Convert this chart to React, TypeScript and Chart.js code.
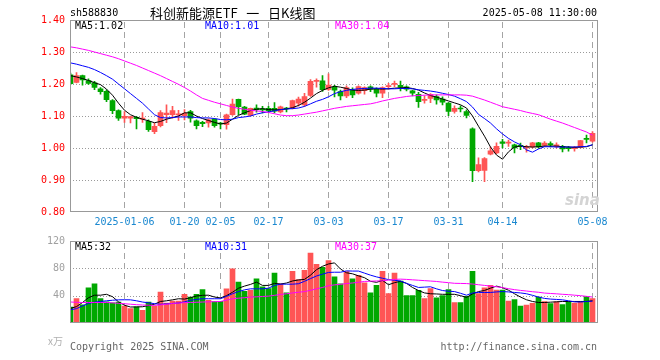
import React, { useEffect, useRef } from 'react';
import { Chart, registerables } from 'chart.js';

Chart.register(...registerables);

// ---------- DATA ----------
const dates = [
  '2024-12-23','2024-12-24','2024-12-25','2024-12-26','2024-12-27','2024-12-30','2024-12-31',
  '2025-01-02','2025-01-03','2025-01-06','2025-01-07','2025-01-08','2025-01-09','2025-01-10',
  '2025-01-13','2025-01-14','2025-01-15','2025-01-16','2025-01-17','2025-01-20','2025-01-21',
  '2025-01-22','2025-01-23','2025-01-24','2025-01-27','2025-02-05','2025-02-06','2025-02-07',
  '2025-02-10','2025-02-11','2025-02-12','2025-02-13','2025-02-14','2025-02-17','2025-02-18',
  '2025-02-19','2025-02-20','2025-02-21','2025-02-24','2025-02-25','2025-02-26','2025-02-27',
  '2025-02-28','2025-03-03','2025-03-04','2025-03-05','2025-03-06','2025-03-07','2025-03-10',
  '2025-03-11','2025-03-12','2025-03-13','2025-03-14','2025-03-17','2025-03-18','2025-03-19',
  '2025-03-20','2025-03-21','2025-03-24','2025-03-25','2025-03-26','2025-03-27','2025-03-28',
  '2025-03-31','2025-04-01','2025-04-02','2025-04-03','2025-04-07','2025-04-08','2025-04-09',
  '2025-04-10','2025-04-11','2025-04-14','2025-04-15','2025-04-16','2025-04-17','2025-04-18',
  '2025-04-21','2025-04-22','2025-04-23','2025-04-24','2025-04-25','2025-04-28','2025-04-29',
  '2025-04-30','2025-05-06','2025-05-07','2025-05-08',
];

const open = [
  1.229,1.205,1.226,1.211,1.204,1.185,1.177,1.148,1.117,1.093,
  1.093,1.096,1.090,1.083,1.051,1.070,1.104,1.104,1.103,1.101,
  1.114,1.085,1.080,1.078,1.090,1.078,1.073,1.104,1.152,1.128,
  1.102,1.125,1.122,1.124,1.124,1.113,1.124,1.125,1.140,1.135,
  1.164,1.208,1.210,1.183,1.190,1.176,1.163,1.181,1.171,1.179,
  1.191,1.184,1.171,1.192,1.199,1.196,1.191,1.179,1.168,1.149,
  1.155,1.161,1.153,1.140,1.114,1.124,1.114,1.060,0.929,0.930,
  0.981,0.985,1.019,1.015,1.010,1.008,1.000,1.003,1.016,1.008,
  1.014,1.006,1.005,1.000,0.998,1.002,1.029,1.021,
];
const close = [
  1.201,1.226,1.213,1.202,1.189,1.176,1.151,1.117,1.093,1.099,
  1.098,1.092,1.093,1.057,1.068,1.111,1.109,1.117,1.107,1.108,
  1.093,1.070,1.076,1.088,1.070,1.075,1.104,1.137,1.129,1.106,
  1.124,1.120,1.119,1.117,1.115,1.129,1.122,1.148,1.153,1.161,
  1.208,1.211,1.182,1.197,1.181,1.163,1.189,1.166,1.192,1.189,
  1.184,1.171,1.189,1.193,1.201,1.190,1.184,1.171,1.145,1.152,
  1.167,1.150,1.143,1.114,1.124,1.122,1.102,0.929,0.948,0.967,
  0.991,1.005,1.014,1.017,1.000,1.005,1.004,1.016,1.003,1.015,
  1.010,1.010,0.997,0.998,1.002,1.023,1.027,1.046,
];
const high = [
  1.234,1.236,1.228,1.216,1.208,1.189,1.182,1.151,1.119,1.114,
  1.099,1.099,1.111,1.088,1.078,1.117,1.135,1.130,1.118,1.120,
  1.118,1.088,1.083,1.091,1.091,1.080,1.106,1.153,1.153,1.130,
  1.125,1.135,1.130,1.130,1.142,1.131,1.127,1.150,1.159,1.171,
  1.214,1.216,1.226,1.232,1.196,1.181,1.194,1.188,1.194,1.191,
  1.194,1.188,1.191,1.202,1.209,1.209,1.194,1.181,1.174,1.163,
  1.170,1.166,1.160,1.142,1.132,1.132,1.119,1.063,0.969,0.970,
  1.003,1.016,1.027,1.025,1.012,1.015,1.008,1.018,1.018,1.020,
  1.019,1.016,1.008,1.005,1.005,1.024,1.040,1.051,
];
const low = [
  1.198,1.203,1.196,1.199,1.182,1.168,1.145,1.107,1.086,1.080,
  1.078,1.060,1.080,1.052,1.045,1.066,1.079,1.093,1.086,1.088,
  1.081,1.060,1.067,1.065,1.065,1.060,1.059,1.102,1.104,1.104,
  1.100,1.112,1.110,1.112,1.110,1.110,1.113,1.122,1.131,1.130,
  1.161,1.190,1.177,1.180,1.160,1.150,1.157,1.157,1.168,1.168,
  1.176,1.160,1.157,1.184,1.192,1.178,1.178,1.163,1.127,1.140,
  1.142,1.137,1.135,1.101,1.109,1.113,1.094,0.895,0.925,0.895,
  0.978,0.982,1.000,1.005,0.985,0.995,0.987,1.000,1.000,1.004,
  1.003,1.000,0.988,0.990,0.990,1.000,1.016,1.018,
];

const ma5 = [
  1.226,1.222,1.217,1.211,1.204,1.198,1.184,1.165,1.140,1.118,
  1.104,1.096,1.090,1.085,1.079,1.083,1.090,1.095,1.100,1.110,
  1.110,1.100,1.092,1.086,1.080,1.075,1.078,1.090,1.102,1.110,
  1.117,1.121,1.123,1.120,1.119,1.120,1.122,1.126,1.133,1.143,
  1.156,1.170,1.180,1.188,1.193,1.190,1.186,1.181,1.180,1.181,
  1.184,1.185,1.184,1.185,1.187,1.188,1.189,1.186,1.181,1.172,
  1.164,1.159,1.153,1.147,1.141,1.135,1.125,1.100,1.068,1.037,
  1.003,0.978,0.965,0.988,1.003,1.006,1.004,1.003,1.004,1.006,
  1.006,1.006,1.004,1.003,1.002,1.003,1.004,1.010,
];
const ma10 = [
  1.266,1.262,1.257,1.252,1.245,1.236,1.226,1.215,1.200,1.185,
  1.170,1.155,1.140,1.122,1.104,1.095,1.094,1.095,1.097,1.097,
  1.097,1.095,1.094,1.094,1.092,1.089,1.088,1.090,1.095,1.097,
  1.100,1.106,1.110,1.113,1.116,1.120,1.122,1.123,1.125,1.130,
  1.138,1.146,1.152,1.160,1.170,1.176,1.180,1.183,1.185,1.186,
  1.187,1.187,1.186,1.185,1.185,1.186,1.186,1.185,1.182,1.180,
  1.178,1.175,1.171,1.167,1.162,1.154,1.145,1.128,1.105,1.092,
  1.078,1.060,1.044,1.030,1.019,1.010,0.994,0.987,0.997,1.004,
  1.004,1.003,1.003,1.003,1.003,1.004,1.005,1.010,
];
const ma30 = [
  1.316,1.313,1.309,1.305,1.300,1.295,1.290,1.285,1.279,1.272,
  1.265,1.258,1.250,1.242,1.234,1.226,1.217,1.208,1.199,1.189,
  1.178,1.166,1.155,1.149,1.143,1.138,1.133,1.128,1.124,1.121,
  1.118,1.116,1.114,1.111,1.107,1.103,1.101,1.101,1.103,1.106,
  1.109,1.112,1.116,1.120,1.124,1.127,1.130,1.132,1.134,1.136,
  1.138,1.142,1.147,1.151,1.155,1.158,1.161,1.163,1.164,1.165,
  1.166,1.166,1.166,1.166,1.166,1.166,1.165,1.162,1.156,1.150,
  1.143,1.136,1.129,1.125,1.121,1.117,1.112,1.108,1.104,1.097,
  1.090,1.084,1.078,1.071,1.064,1.057,1.050,1.040,
];

const volume = [
  23.2,35.7,26.5,51.5,57.3,35.7,31,29.5,30.7,24.8,
  21,23.6,18.4,30.7,24.8,45.4,29,32,32,41.8,
  38,41.8,48.8,33.3,31.3,31.7,50,79.4,60,46.2,
  47.8,64.8,53,50.5,73,57.5,44,75.7,63.6,76.9,
  102.4,86,81.6,91.5,67.4,57.2,75.3,64.7,69.7,58.8,
  44,55.2,75.7,43.1,73,61.2,40.2,40.2,47.8,35.7,
  50.2,36.9,40.2,48.8,30,30,39,75.7,43,51.5,
  55,48,48,31.9,34.3,24.6,26.2,28.7,38,31.5,
  28.3,31.1,27,31.5,29.1,31.5,38.7,35.9,
];
const volMa5 = [
  21.4,24,30,37,40.7,40.7,42,38.5,31,26,
  23.4,23.5,23.8,25.5,27.5,31.5,32.5,33.9,35.5,35,
  37,39.5,40.5,40.7,38,36.7,40,45,50.9,54,
  56.5,59.8,55,55,58,57,58.5,61.5,63,63.8,
  70,78,83,86.4,88,79,73.5,72,69,66.3,
  61,59.5,62.3,56,59,61,58,52,47.5,44,
  42.8,42.5,42,42,42,40,37.5,42.5,46,47.6,
  51,54,51.6,48,42.8,38,34,31.5,30,30,
  30.5,31,31.5,31.5,31.5,31.5,31.5,32.5,
];
const volMa10 = [
  19.4,21,25,28.6,30.5,31.5,32.5,33.3,33.9,34,
  33.9,32.5,30.7,29.5,28.3,27.4,28,28.6,29.3,31,
  33.2,34.5,35.5,35.5,35.5,35.5,39,42.8,46,48.5,
  50,50,50,51,55,56.8,56.8,56.8,57.5,61,
  65,68.8,71.5,74,74.3,74.3,76.3,76,76,73,
  70,67.5,65.5,63.5,62.5,61.5,58,55,52,52.5,
  53,50,47.5,46.5,46,43.5,40.7,44,44.7,44.7,
  44.7,45.5,46,45.5,44.7,44,42.8,40.5,38,36,
  35,34.5,33.9,32.5,31,30.7,31.5,32,
];
const volMa30 = [
  30.7,30.3,30,30,30,30,30,29.5,28.8,28.2,
  27.5,26.8,26.3,26,25.8,26.5,27.5,28.6,29.2,29.8,
  30,30.3,30.7,31,31.2,31.5,33.5,35.5,36.3,37,
  37.9,38.3,38.8,39.3,40.5,41.8,42.8,44,45,46,
  47.8,50,52,54.5,55.8,56.6,57.7,58.6,59.6,60.8,
  61.2,61.5,61.8,62.8,63.8,64.2,63.8,63.2,62.6,62,
  61.4,60.8,59.8,59,58.1,57.9,57.7,57,56,55,
  54,53,51.8,50.2,48.8,47.7,46.8,45.8,45,43.8,
  43.2,42.7,42,41.5,40.7,40,39,38,
];

const tickDates = ['2025-01-06','2025-01-20','2025-02-05','2025-02-17','2025-03-03','2025-03-17','2025-03-31','2025-04-14','2025-05-08'];
const tickLabels = ['2025-01-06','01-20','02-05','02-17','03-03','03-17','03-31','04-14','05-08'];
const priceTicks = [0.8, 0.9, 1.0, 1.1, 1.2, 1.3, 1.4];
const volTicks = [0, 40, 80, 120];

// ---------- STYLE ----------
const RED = '#ff5555';
const GREEN = '#00a800';
const MONO = '"DejaVu Sans Mono", monospace';
const tickIdx = tickDates.map((d) => dates.indexOf(d));
const XMIN = -1 / 12;
const XMAX = XMIN + 527.5 / 6;

function makeGridPlugin(hValues: number[], yMin: number, yMax: number) {
  return {
    id: 'sinaGrid',
    beforeDatasetsDraw(chart: any) {
      const { ctx, chartArea: a, scales } = chart;
      const xs = scales.x;
      const ys = scales.y;
      const left = Math.round(a.left);
      const right = Math.round(a.right);
      const top = Math.round(a.top);
      const bottom = Math.round(a.bottom);
      ctx.save();
      // dotted horizontal lines (1px dots every 3px)
      ctx.fillStyle = '#9a9a9a';
      hValues.forEach((v) => {
        if (v === yMin || v === yMax) return;
        const py = Math.round(ys.getPixelForValue(v));
        for (let px = left; px < right; px += 3) ctx.fillRect(px, py, 1, 1);
      });
      // dashed vertical lines (6px dash, 4px gap)
      ctx.fillStyle = '#a4a4a4';
      tickIdx.forEach((i) => {
        const px = Math.floor(xs.getPixelForValue(i));
        for (let py = top + 2; py < bottom; py += 10) ctx.fillRect(px, py, 1, Math.min(6, bottom - py));
      });
      ctx.restore();
    },
    afterDatasetsDraw(chart: any) {
      const { ctx, chartArea: a } = chart;
      const left = Math.round(a.left);
      const right = Math.round(a.right);
      const top = Math.round(a.top);
      const bottom = Math.round(a.bottom);
      ctx.save();
      ctx.fillStyle = '#999999';
      ctx.fillRect(left, top, right - left, 1);
      ctx.fillRect(left, bottom - 1, right - left, 1);
      ctx.fillRect(left, top, 1, bottom - top);
      ctx.fillRect(right - 1, top, 1, bottom - top);
      ctx.restore();
    },
  };
}

const lineDs = (values: number[], color: string) => ({
  type: 'line',
  data: values.map((v, i) => ({ x: i, y: v })),
  borderColor: color,
  borderWidth: 1,
  pointRadius: 0,
  tension: 0,
  order: 0,
});

const candleColors = dates.map((_, i) => (close[i] >= open[i] ? RED : GREEN));

function xScale(show: boolean) {
  return {
    type: 'linear',
    min: XMIN,
    max: XMAX,
    offset: false,
    display: show,
    afterBuildTicks: (s: any) => {
      s.ticks = tickIdx.map((v) => ({ value: v }));
    },
    afterFit: (s: any) => {
      s.height = 18;
    },
    grid: { display: false, drawTicks: false, offset: false },
    border: { display: false },
    ticks: {
      autoSkip: false,
      maxRotation: 0,
      padding: 4,
      color: '#1a88d0',
      font: { family: MONO, size: 10 },
      callback: (_v: any, i: number) => tickLabels[i],
    },
  };
}

function yScale(min: number, max: number, ticks: number[], color: string, fmt: (v: number) => string) {
  return {
    min,
    max,
    afterBuildTicks: (s: any) => {
      s.ticks = ticks.map((v) => ({ value: v }));
    },
    afterFit: (s: any) => {
      s.width = 70;
    },
    grid: { display: false, drawTicks: false },
    border: { display: false },
    ticks: {
      padding: 5,
      color,
      font: { family: MONO, size: 10 },
      callback: (v: any) => fmt(Number(v)),
    },
  };
}

const common = {
  responsive: false,
  animation: false,
  devicePixelRatio: 1,
  events: [],
  plugins: { legend: { display: false }, tooltip: { enabled: false } },
};

export default function App() {
  const priceRef = useRef<HTMLCanvasElement>(null);
  const volRef = useRef<HTMLCanvasElement>(null);

  useEffect(() => {
    const priceChart = new Chart(priceRef.current as HTMLCanvasElement, {
      type: 'bar',
      data: {
        datasets: [
          {
            type: 'bar',
            data: dates.map((_, i) => ({ x: i, y: [low[i], high[i]] })),
            backgroundColor: candleColors,
            barThickness: 1,
            grouped: false,
            minBarLength: 1,
            order: 2,
          },
          {
            type: 'bar',
            data: dates.map((_, i) => ({ x: i, y: [open[i], close[i]] })),
            backgroundColor: candleColors,
            barThickness: 5,
            grouped: false,
            minBarLength: 1,
            order: 1,
          },
          lineDs(ma30, '#ff00ff'),
          lineDs(ma10, '#0000ff'),
          lineDs(ma5, '#000000'),
        ],
      } as any,
      options: {
        ...common,
        layout: { padding: { left: 0, right: 62.5, top: 20, bottom: 0 } },
        scales: {
          x: xScale(true),
          y: yScale(0.8, 1.4, priceTicks, '#ff0000', (v) => v.toFixed(2)),
        },
      } as any,
      plugins: [makeGridPlugin(priceTicks, 0.8, 1.4)],
    });

    const volChart = new Chart(volRef.current as HTMLCanvasElement, {
      type: 'bar',
      data: {
        datasets: [
          {
            type: 'bar',
            data: dates.map((_, i) => ({ x: i, y: volume[i] })),
            backgroundColor: candleColors,
            barThickness: 5,
            grouped: false,
            order: 1,
          },
          lineDs(volMa30, '#ff00ff'),
          lineDs(volMa10, '#0000ff'),
          lineDs(volMa5, '#000000'),
        ],
      } as any,
      options: {
        ...common,
        layout: { padding: { left: 0, right: 62.5, top: 11, bottom: 19 } },
        scales: {
          x: xScale(false),
          y: yScale(0, 120, volTicks, '#a0a0a0', (v) => (v === 0 ? '' : String(v))),
        },
      } as any,
      plugins: [makeGridPlugin(volTicks, 0, 120)],
    });

    return () => {
      priceChart.destroy();
      volChart.destroy();
    };
  }, []);

  const txt = (extra: React.CSSProperties): React.CSSProperties => ({
    position: 'absolute',
    fontFamily: MONO,
    fontSize: 10,
    lineHeight: '10px',
    whiteSpace: 'pre',
    ...extra,
  });

  return (
    <div style={{ position: 'fixed', left: 0, top: 0, width: 660, height: 360, background: '#fff', overflow: 'hidden' }}>
      <canvas ref={priceRef} width={660} height={230} style={{ position: 'absolute', left: 0, top: 0, width: 660, height: 230 }} />
      <canvas ref={volRef} width={660} height={130} style={{ position: 'absolute', left: 0, top: 230, width: 660, height: 130 }} />

      <div style={txt({ left: 70, top: 8, color: '#000' })}>sh588830</div>
      <div style={txt({ left: 150, top: 5, color: '#000', fontFamily: '"Noto Sans CJK SC", sans-serif', fontSize: 13, lineHeight: '15px' })}>{'科创新能源ETF\u00a0\u00a0\u00a0一\u00a0\u00a0\u00a0日K线图'}</div>
      <div style={txt({ right: 63, top: 8, color: '#000' })}>2025-05-08 11:30:00</div>

      <div style={txt({ left: 75, top: 21, color: '#000' })}>MA5:1.02</div>
      <div style={txt({ left: 205, top: 21, color: '#0000ff' })}>MA10:1.01</div>
      <div style={txt({ left: 335, top: 21, color: '#ff00ff' })}>MA30:1.04</div>

      <div style={txt({ left: 565, top: 193, color: '#d4d4d4', fontFamily: '"DejaVu Sans", sans-serif', fontSize: 15, lineHeight: '15px', fontWeight: 'bold', fontStyle: 'italic' })}>sina</div>

      <div style={txt({ left: 75, top: 242, color: '#000' })}>MA5:32</div>
      <div style={txt({ left: 205, top: 242, color: '#0000ff' })}>MA10:31</div>
      <div style={txt({ left: 335, top: 242, color: '#ff00ff' })}>MA30:37</div>

      <div style={txt({ left: 48, top: 335, color: '#b0b0b0', fontFamily: '"Noto Sans CJK SC", sans-serif', fontSize: 10, lineHeight: '12px' })}>x万</div>
      <div style={txt({ left: 70, top: 342, color: '#666' })}>Copyright 2025 SINA.COM</div>
      <div style={txt({ right: 63, top: 342, color: '#666' })}>http://finance.sina.com.cn</div>
    </div>
  );
}
